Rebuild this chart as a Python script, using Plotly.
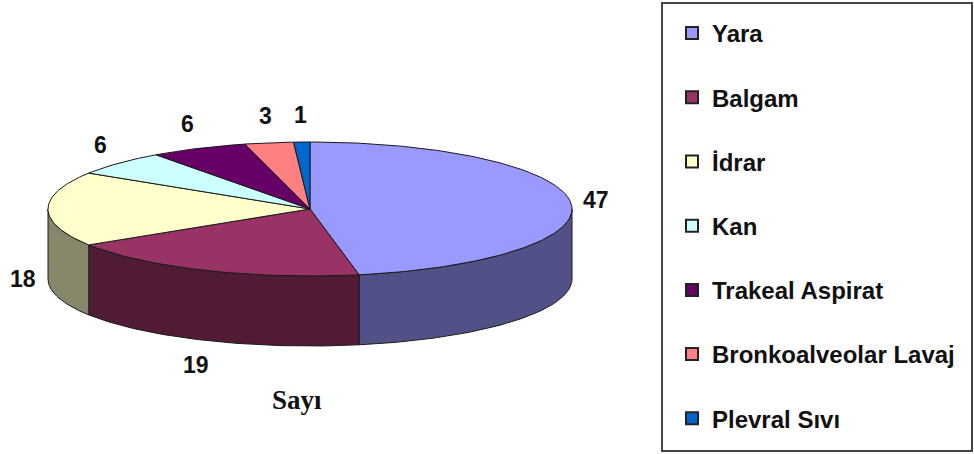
import numpy as np
import plotly.graph_objects as go

# ---- data ----
categories = ["Yara", "Balgam", "İdrar", "Kan", "Trakeal Aspirat", "Bronkoalveolar Lavaj", "Plevral Sıvı"]
values = [47, 19, 18, 6, 6, 3, 1]
top_colors = ["#9999FF", "#993366", "#FFFFCC", "#CCFFFF", "#660066", "#FF8080", "#0066CC"]
title_text = "Sayı"

# ---- geometry of the pseudo-3D pie (pixel space) ----
CX, CY, RX, RY, DEPTH = 310.0, 209.0, 262.0, 67.0, 70.0
LBL_DX, LBL_DY = 25.0, 27.0
SIDE_FACTOR = 0.53


def darken(hexc, f):
    h = hexc.lstrip("#")
    r, g, b = (int(h[i:i + 2], 16) for i in (0, 2, 4))
    return "#%02X%02X%02X" % (int(r * f), int(g * f), int(b * f))


def arc(a, b, dy=0.0):
    n = max(2, int(abs(b - a) / 1.0) + 2)
    t = np.radians(np.linspace(a, b, n))
    return CX + RX * np.sin(t), CY - RY * np.cos(t) + dy


total = float(sum(values))
angles = np.concatenate([[0.0], np.cumsum(values) / total * 360.0])

fig = go.Figure()

# side walls (front half only: 90..270 deg clockwise from top)
for i, v in enumerate(values):
    a, b = max(angles[i], 90.0), min(angles[i + 1], 270.0)
    if b <= a:
        continue
    xt, yt = arc(a, b)
    xb, yb = arc(b, a, DEPTH)
    xs = np.concatenate([xt, xb, xt[:1]])
    ys = np.concatenate([yt, yb, yt[:1]])
    fig.add_trace(go.Scatter(x=xs, y=ys, mode="lines", fill="toself",
                             fillcolor=darken(top_colors[i], SIDE_FACTOR),
                             line=dict(color="#1a1a1a", width=1),
                             hoverinfo="skip", showlegend=False))

# top faces
for i, v in enumerate(values):
    xa, ya = arc(angles[i], angles[i + 1])
    xs = np.concatenate([[CX], xa, [CX]])
    ys = np.concatenate([[CY], ya, [CY]])
    fig.add_trace(go.Scatter(x=xs, y=ys, mode="lines", fill="toself",
                             fillcolor=top_colors[i],
                             line=dict(color="#1a1a1a", width=1),
                             name=categories[i], text=[str(v)] * len(xs),
                             hoverinfo="name+text", showlegend=False))

# legend entries
for i, c in enumerate(categories):
    fig.add_trace(go.Scatter(x=[None], y=[None], mode="markers", name=c,
                             legendgroup="g%d" % i,
                             marker=dict(symbol="square", size=14, color=top_colors[i],
                                         line=dict(color="#222", width=1))))

# value labels
for i, v in enumerate(values):
    mid = np.radians((angles[i] + angles[i + 1]) / 2.0)
    lx = CX + (RX + LBL_DX) * np.sin(mid)
    ly = CY - (RY + LBL_DY) * np.cos(mid)
    if np.cos(mid) < 1e-9:
        ly += DEPTH
    fig.add_annotation(x=lx, y=ly, text="<b>%d</b>" % v, showarrow=False,
                       font=dict(family="Liberation Sans", size=23, color="#111"),
                       xanchor="center", yanchor="middle")

fig.add_annotation(x=297, y=400, text="<b>%s</b>" % title_text, showarrow=False,
                   font=dict(family="Liberation Serif", size=27, color="#111"),
                   xanchor="center", yanchor="middle")

# legend frame
fig.add_shape(type="rect", xref="paper", yref="paper",
              x0=662 / 974, x1=972 / 974, y0=1 - 451 / 454, y1=1 - 3 / 454,
              line=dict(color="#444", width=2), fillcolor="rgba(0,0,0,0)", layer="above")

fig.update_layout(
    width=974, height=454,
    margin=dict(l=0, r=0, t=0, b=0),
    paper_bgcolor="white", plot_bgcolor="white",
    xaxis=dict(range=[0, 974], visible=False, fixedrange=True),
    yaxis=dict(range=[454, 0], visible=False, fixedrange=True),
    showlegend=True,
    legend=dict(x=672 / 974, y=1 - 11 / 454, xanchor="left", yanchor="top",
                borderwidth=0, bgcolor="rgba(0,0,0,0)",
                font=dict(family="Liberation Sans", size=24, color="#111", weight="bold"),
                tracegroupgap=30, itemsizing="constant",
                traceorder="grouped"),
)

fig.write_html("out.html")
